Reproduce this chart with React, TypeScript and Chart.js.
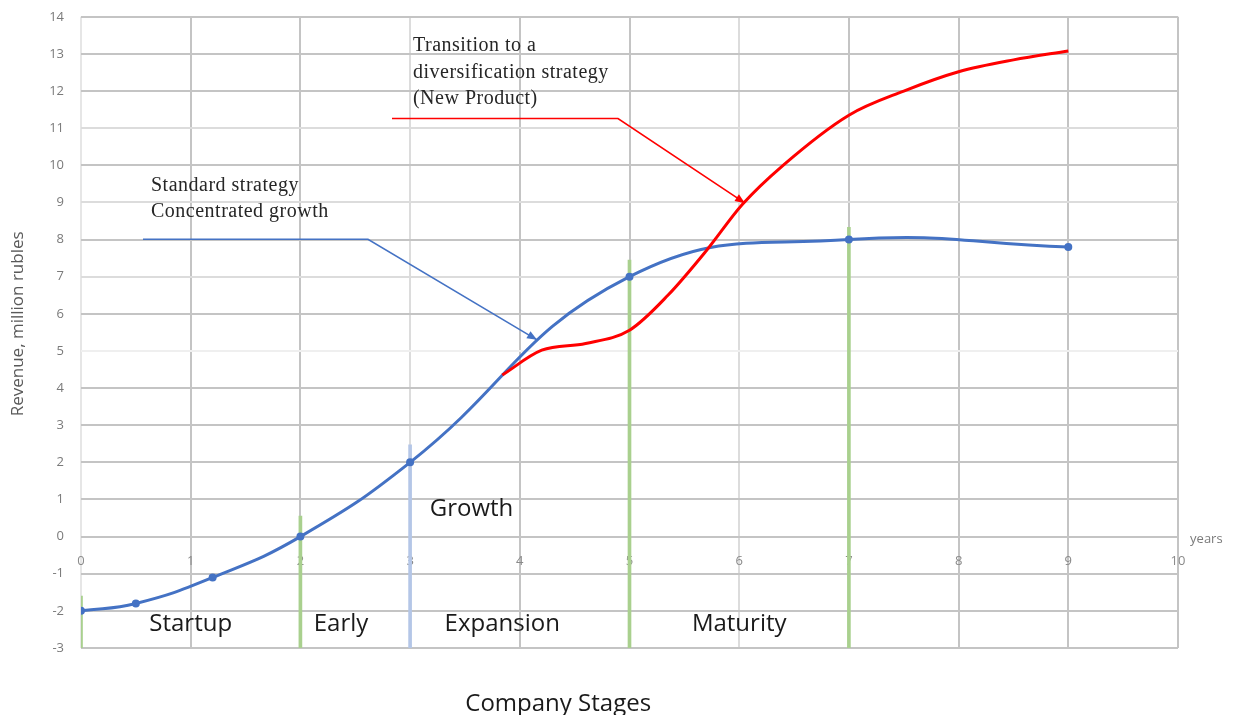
import React, { useEffect, useRef } from 'react';
import { Chart, registerables } from 'chart.js';

Chart.register(...registerables);

// ---- Data ----
const standardX = [0, 0.5, 1.2, 2, 3, 5, 7, 9];
const standardY = [-2, -1.8, -1.1, 0, 2, 7, 8, 7.8];

const diversX = [3.84, 4.2, 4.6, 5.0, 5.35, 5.7, 6.03, 6.4, 7.0, 7.5, 8.0, 8.5, 9.0];
const diversY = [4.35, 5.02, 5.2, 5.56, 6.5, 7.7, 8.95, 10.0, 11.35, 12.0, 12.52, 12.84, 13.08];

const stageBoundX = [0, 2, 3, 5, 7];
const stageBoundTop = [-1.6, 0.55, 2.47, 7.45, 8.33];
const stageBoundColors = ['#a9d08e', '#a9d08e', '#b4c6e7', '#a9d08e', '#a9d08e'];

const stageNames = ['Startup', 'Early', 'Expansion', 'Maturity'];
const stageLabelX = [1, 2.37, 3.84, 6];
const stageLabelY = -2.37;

const growthLabel = 'Growth';
const growthPos = [3.56, 0.73];

const standardNote = ['Standard strategy', 'Concentrated growth'];
const diversNote = ['Transition to a', 'diversification strategy', '(New Product)'];

const yMin = -3;
const yMax = 14;
const xMin = 0;
const xMax = 10;

const lighterY = [11, 9, 7];
const veryLightY = [5];
const lighterX = [3, 6];

const SHIFT = 8; // canvas is drawn 8px taller and moved up so the plot top sits where it should

function drawArrow(ctx: CanvasRenderingContext2D, pts: number[][], color: string) {
  ctx.save();
  ctx.strokeStyle = color;
  ctx.fillStyle = color;
  ctx.lineWidth = 1.6;
  ctx.beginPath();
  ctx.moveTo(pts[0][0], pts[0][1]);
  for (let i = 1; i < pts.length; i++) ctx.lineTo(pts[i][0], pts[i][1]);
  ctx.stroke();
  const [x1, y1] = pts[pts.length - 2];
  const [x2, y2] = pts[pts.length - 1];
  const ang = Math.atan2(y2 - y1, x2 - x1);
  const len = 10;
  const w = 4;
  ctx.beginPath();
  ctx.moveTo(x2, y2);
  ctx.lineTo(x2 - len * Math.cos(ang) + w * Math.sin(ang), y2 - len * Math.sin(ang) - w * Math.cos(ang));
  ctx.lineTo(x2 - len * Math.cos(ang) - w * Math.sin(ang), y2 - len * Math.sin(ang) + w * Math.cos(ang));
  ctx.closePath();
  ctx.fill();
  ctx.restore();
}

const annotationPlugin = {
  id: 'annotations',
  afterDatasetsDraw(chart: any) {
    const { ctx, scales, chartArea } = chart;
    const xs = scales.x;
    const ys = scales.y;
    const px = (v: number) => xs.getPixelForValue(v);
    const py = (v: number) => ys.getPixelForValue(v);
    ctx.save();

    // callouts
    drawArrow(ctx, [[px(0.565), py(8.01)], [px(2.616), py(8.01)], [px(4.157), py(5.3)]], '#4472c4');
    drawArrow(ctx, [[px(2.835), py(11.26)], [px(4.895), py(11.26)], [px(6.053), py(8.98)]], '#ff0000');

    // serif notes
    ctx.fillStyle = '#262626';
    ctx.font = '20px "Liberation Serif", "DejaVu Serif", serif';
    (ctx as any).letterSpacing = '0.5px';
    ctx.textAlign = 'left';
    ctx.textBaseline = 'middle';
    ctx.fillText(standardNote[0], px(0.638), py(9.46));
    ctx.fillText(standardNote[1], px(0.638), py(8.74));
    ctx.fillText(diversNote[0], px(3.026), py(13.23));
    ctx.fillText(diversNote[1], px(3.026), py(12.5));
    ctx.fillText(diversNote[2], px(3.026), py(11.8));
    (ctx as any).letterSpacing = '0px';

    // stage labels
    ctx.fillStyle = '#1a1a1a';
    ctx.font = '24px "Open Sans", "Noto Sans", sans-serif';
    ctx.textAlign = 'center';
    stageNames.forEach((n, i) => ctx.fillText(n, px(stageLabelX[i]), py(stageLabelY)));
    ctx.fillText(growthLabel, px(growthPos[0]), py(growthPos[1]));

    // x-axis title
    ctx.fillText('Company Stages', px(4.35), chartArea.bottom + 56);

    // years
    ctx.fillStyle = '#7a7a7a';
    ctx.font = '13px "Open Sans", "Noto Sans", sans-serif';
    ctx.textAlign = 'left';
    ctx.fillText('years', px(10.11), py(-0.08));

    // y title
    ctx.save();
    ctx.translate(chartArea.left - 63, py(5.73));
    ctx.rotate(-Math.PI / 2);
    ctx.textAlign = 'center';
    ctx.fillStyle = '#595959';
    ctx.font = '17px "Open Sans", "Noto Sans", sans-serif';
    ctx.fillText('Revenue, million rubles', 0, 0);
    ctx.restore();

    ctx.restore();
  },
};

export default function App() {
  const ref = useRef<HTMLCanvasElement>(null);

  useEffect(() => {
    document.body.style.margin = '0';
    const canvas = ref.current;
    if (!canvas) return;

    const chart = new Chart(canvas, {
      type: 'line',
      data: {
        datasets: [
          {
            type: 'line',
            label: 'Standard strategy',
            data: standardX.map((x, i) => ({ x, y: standardY[i] })),
            borderColor: '#4472c4',
            backgroundColor: '#4472c4',
            borderWidth: 3,
            pointRadius: 4,
            pointBackgroundColor: '#4472c4',
            pointBorderWidth: 0,
            tension: 0.45,
            order: 1,
          },
          {
            type: 'line',
            label: 'Diversification',
            data: diversX.map((x, i) => ({ x, y: diversY[i] })),
            borderColor: '#ff0000',
            borderWidth: 3,
            pointRadius: 0,
            cubicInterpolationMode: 'monotone',
            order: 0,
          },
          {
            type: 'bar',
            label: 'Stage boundaries',
            data: stageBoundX.map((x, i) => ({ x, y: [yMin, stageBoundTop[i]] })) as any,
            backgroundColor: stageBoundColors,
            barThickness: 3,
            grouped: false,
            order: 2,
          } as any,
        ],
      },
      options: {
        animation: false,
        responsive: false,
        events: [],
        layout: { padding: { left: 0, right: 62, top: 8, bottom: 67 } },
        plugins: { legend: { display: false }, tooltip: { enabled: false }, title: { display: false } },
        scales: {
          x: {
            type: 'linear',
            min: xMin,
            max: xMax,
            offset: false,
            position: { y: 0 } as any,
            border: { display: false },
            grid: {
              offset: false,
              drawTicks: false,
              lineWidth: 2,
              color: (c: any) => (c.tick && lighterX.includes(c.tick.value) ? '#dcdcdc' : c.tick && c.tick.value === 0 ? '#e6e6e6' : '#c4c4c4'),
            },
            ticks: {
              stepSize: 1,
              padding: 17,
              color: '#8a8a8a',
              font: { family: '"Open Sans", "Noto Sans", sans-serif', size: 13 },
              maxRotation: 0,
            },
          },
          y: {
            type: 'linear',
            min: yMin,
            max: yMax,
            border: { display: false },
            afterFit: (s: any) => {
              s.width = 81;
            },
            grid: {
              drawTicks: false,
              lineWidth: 2,
              color: (c: any) => {
                const v = c.tick ? c.tick.value : null;
                if (veryLightY.includes(v)) return '#efefef';
                if (lighterY.includes(v)) return '#dcdcdc';
                return '#c4c4c4';
              },
            },
            ticks: {
              stepSize: 1,
              padding: 17,
              color: '#7a7a7a',
              font: { family: '"Open Sans", "Noto Sans", sans-serif', size: 13 },
            },
          },
        },
      },
      plugins: [annotationPlugin],
    });

    return () => chart.destroy();
  }, []);

  return (
    <div style={{ width: 1240, height: 715, overflow: 'hidden', position: 'relative' }}>
      <canvas
        ref={ref}
        width={1240}
        height={715 + SHIFT}
        style={{ display: 'block', position: 'absolute', left: 0, top: -SHIFT }}
      />
    </div>
  );
}
